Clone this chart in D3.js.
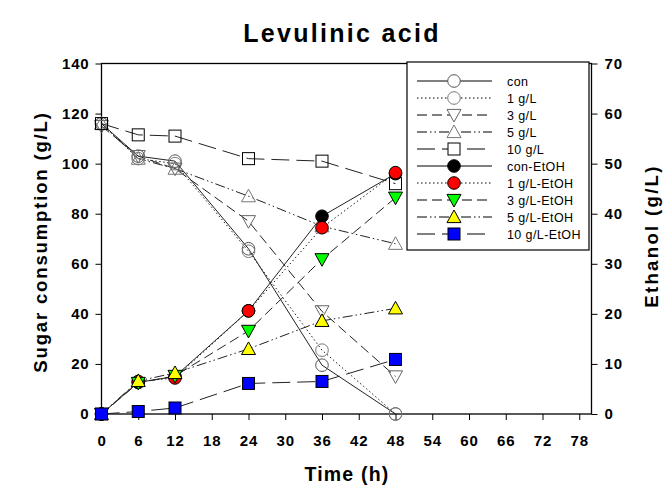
<!DOCTYPE html>
<html><head><meta charset="utf-8">
<script src="https://cdn.jsdelivr.net/npm/d3@7/dist/d3.min.js"></script>
<style>body{margin:0;background:#fff}svg{display:block}text{font-family:Arial,"Liberation Sans",sans-serif}</style>
</head><body><svg id="c" width="671" height="496"></svg>
<script>
const time = [0, 6, 12, 24, 36, 48];
const xTicks = [0, 6, 12, 18, 24, 30, 36, 42, 48, 54, 60, 66, 72, 78];
const leftTicks = [0, 20, 40, 60, 80, 100, 120, 140];
const rightTicks = [0, 10, 20, 30, 40, 50, 60, 70];
// Sugar consumption (g/L), left axis
const sugarCon = [116, 103, 101, 66, 19.5, 0];
const sugar1 = [116, 102, 100, 65, 25.5, 0];
const sugar3 = [115, 103, 98, 77, 41, 15];
const sugar5 = [116, 102, 98, 87, 75, 68];
const sugar10 = [116, 111.5, 111, 102, 101, 92];
// Ethanol (g/L), right axis
const etohCon = [0, 6.3, 7.5, 20.6, 39.5, 48];
const etoh1 = [0, 6.5, 7.2, 20.6, 37.2, 48.2];
const etoh3 = [0, 6.2, 7.6, 16.6, 30.9, 43.2];
const etoh5 = [0, 6.6, 8.2, 13.0, 18.6, 21.1];
const etoh10 = [0, 0.5, 1.2, 6.1, 6.5, 10.9];
const labels = ["con","1 g/L","3 g/L","5 g/L","10 g/L","con-EtOH","1 g/L-EtOH","3 g/L-EtOH","5 g/L-EtOH","10 g/L-EtOH"];

const svg = d3.select("#c");
const L = 101.5, R = 591.5, T = 63.5, B = 414;
const x = d3.scaleLinear().domain([0, 80]).range([L, R]);
const yL = d3.scaleLinear().domain([0, 140]).range([B, T]);
const yR = d3.scaleLinear().domain([0, 70]).range([B, T]);

const dashes = [null, "1.5,2.5", "10,5", "10,3,1.5,3,1.5,3", "18,7"];
const shapes = ["circle","circle","down","up","square"];
const series = [
  {v: sugarCon, y: yL, fill: "none", stroke: "#555", k: 0},
  {v: sugar1, y: yL, fill: "none", stroke: "#777", k: 1},
  {v: sugar3, y: yL, fill: "none", stroke: "#666", k: 2},
  {v: sugar5, y: yL, fill: "none", stroke: "#777", k: 3},
  {v: sugar10, y: yL, fill: "none", stroke: "#000", k: 4},
  {v: etohCon, y: yR, fill: "#000", stroke: "#000", k: 0},
  {v: etoh1, y: yR, fill: "#ff0000", stroke: "#000", k: 1},
  {v: etoh3, y: yR, fill: "#00ff00", stroke: "#000", k: 2},
  {v: etoh5, y: yR, fill: "#ffff00", stroke: "#000", k: 3},
  {v: etoh10, y: yR, fill: "#0000ff", stroke: "#000", k: 4}
];

function marker(g, shape, cx, cy, fill, stroke) {
  if (shape === "circle") {
    g.append("circle").attr("cx", cx).attr("cy", cy).attr("r", 6.3)
      .attr("fill", fill).attr("stroke", stroke).attr("stroke-width", 1);
  } else if (shape === "square") {
    g.append("rect").attr("x", cx - 6).attr("y", cy - 6).attr("width", 12).attr("height", 12)
      .attr("fill", fill).attr("stroke", stroke).attr("stroke-width", 1);
  } else {
    const s = 7;
    const pts = shape === "up"
      ? [[cx, cy - s], [cx - s, cy + s * 0.8], [cx + s, cy + s * 0.8]]
      : [[cx, cy + s], [cx - s, cy - s * 0.8], [cx + s, cy - s * 0.8]];
    g.append("polygon").attr("points", pts.map(p => p.join(",")).join(" "))
      .attr("fill", fill).attr("stroke", stroke).attr("stroke-width", 1);
  }
}

// frame
svg.append("rect").attr("x", L).attr("y", T).attr("width", R - L).attr("height", B - T)
  .attr("fill", "none").attr("stroke", "#000").attr("stroke-width", 1.3);

// axes
const fontTick = g => g.selectAll("text").attr("font-size", 15).attr("font-weight", "bold")
  .attr("letter-spacing", 0.8).attr("fill", "#000");
svg.append("g").attr("transform", `translate(0,${B})`)
  .call(d3.axisBottom(x).tickValues(xTicks).tickSize(6).tickPadding(15))
  .call(g => g.select(".domain").remove()).call(fontTick);
svg.append("g").attr("transform", `translate(${L},0)`)
  .call(d3.axisLeft(yL).tickValues(leftTicks).tickSize(6).tickPadding(6))
  .call(g => g.select(".domain").remove()).call(fontTick);
svg.append("g").attr("transform", `translate(${R},0)`)
  .call(d3.axisRight(yR).tickValues(rightTicks).tickSize(6).tickPadding(7))
  .call(g => g.select(".domain").remove()).call(fontTick);

// lines
series.forEach(s => {
  const line = d3.line().x((d, i) => x(time[i])).y(d => s.y(d));
  svg.append("path").datum(s.v).attr("d", line).attr("fill", "none")
    .attr("stroke", "#222").attr("stroke-width", 1)
    .attr("stroke-dasharray", dashes[s.k]);
});
// markers
series.forEach(s => {
  const g = svg.append("g");
  s.v.forEach((d, i) => marker(g, shapes[s.k], x(time[i]), s.y(d), s.fill, s.stroke));
});

// legend
const lg = svg.append("g");
lg.append("rect").attr("x", 407).attr("y", 62).attr("width", 182).attr("height", 188)
  .attr("fill", "#fff").attr("stroke", "#000").attr("stroke-width", 1.2);
series.forEach((s, i) => {
  const yy = 81 + i * 17;
  lg.append("line").attr("x1", 417).attr("x2", 492).attr("y1", yy).attr("y2", yy)
    .attr("stroke", "#000").attr("stroke-width", 1).attr("stroke-dasharray", dashes[s.k]);
  marker(lg, shapes[s.k], 454, yy, s.fill === "none" ? "#fff" : s.fill, s.stroke);
  lg.append("text").attr("x", 507).attr("y", yy + 4.5).attr("font-size", 12.5)
    .attr("letter-spacing", 0.4).text(labels[i]);
});

// titles
svg.append("text").attr("x", 342).attr("y", 42).attr("text-anchor", "middle")
  .attr("font-size", 25).attr("font-weight", "bold").attr("letter-spacing", 2.3).text("Levulinic acid");
svg.append("text").attr("x", 347).attr("y", 481).attr("text-anchor", "middle")
  .attr("font-size", 19.5).attr("font-weight", "bold").attr("letter-spacing", 1.2).text("Time (h)");
svg.append("text").attr("transform", "translate(47,242) rotate(-90)").attr("text-anchor", "middle")
  .attr("font-size", 18.6).attr("font-weight", "bold").attr("letter-spacing", 1.8).text("Sugar consumption (g/L)");
svg.append("text").attr("transform", "translate(658,236) rotate(-90)").attr("text-anchor", "middle")
  .attr("font-size", 18.6).attr("font-weight", "bold").attr("letter-spacing", 2.3).text("Ethanol (g/L)");
</script></body></html>
